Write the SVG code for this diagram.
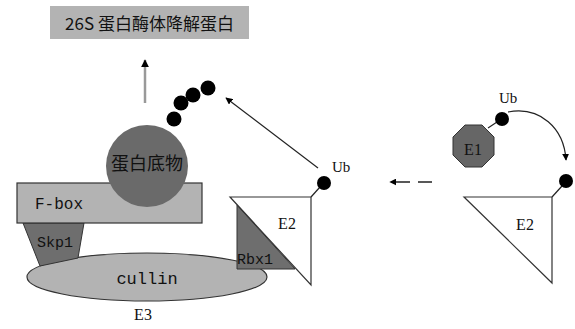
<svg xmlns="http://www.w3.org/2000/svg" width="575" height="329" viewBox="0 0 575 329">
<defs>
<style>
.serif{font-family:"Liberation Serif","Noto Sans CJK SC",serif;fill:#111}
.mono{font-family:"Liberation Mono","DejaVu Sans Mono",monospace;fill:#111}
.cjk{font-family:"Noto Sans CJK SC","Liberation Serif",serif;fill:#111}
.dot{fill:#000}
.ln{stroke:#222;stroke-width:1.2;fill:none}
</style>
<marker id="ah" viewBox="0 0 10 10" refX="9" refY="5" markerWidth="7" markerHeight="7" orient="auto" markerUnits="userSpaceOnUse">
<path d="M0,0 L10,5 L0,10 z" fill="#000"/>
</marker>
<marker id="ahg" viewBox="0 0 10 10" refX="9" refY="5" markerWidth="8" markerHeight="8" orient="auto" markerUnits="userSpaceOnUse">
<path d="M0,0 L10,5 L0,10 z" fill="#000"/>
</marker>
</defs>
<rect width="575" height="329" fill="#fff"/>

<g id="title">
<rect x="50" y="6" width="199" height="33" fill="#b3b3b3"/>
<text x="149.5" y="30" text-anchor="middle" class="cjk" font-size="17">26S 蛋白酶体降解蛋白</text>
</g>

<g id="connectors">
<line x1="145" y1="103" x2="145" y2="60" stroke="#999" stroke-width="2.5" marker-end="url(#ahg)"/>
<line x1="318" y1="168" x2="226" y2="98" stroke="#222" stroke-width="1.2" marker-end="url(#ah)"/>
<line x1="432" y1="182" x2="390" y2="182" stroke="#222" stroke-width="1.5" stroke-dasharray="14,8" marker-end="url(#ah)"/>
<path d="M508,112 C540,106 564,128 566,160" class="ln" marker-end="url(#ah)"/>
<line x1="311" y1="197" x2="320" y2="187" class="ln"/>
<line x1="488" y1="128" x2="500" y2="120" class="ln"/>
<line x1="552" y1="197" x2="562" y2="186" class="ln"/>
</g>

<g id="cullin">
<ellipse cx="147" cy="277" rx="120" ry="24" fill="#b3b3b3" stroke="#333" stroke-width="1.2"/>
<text x="147" y="284" text-anchor="middle" class="mono" font-size="17">cullin</text>
</g>

<g id="skp1">
<polygon points="23,223 84,223 78,258 40,266" fill="#6e6e6e" stroke="#333" stroke-width="1"/>
<text x="37" y="247" class="mono" font-size="15">Skp1</text>
</g>

<g id="fbox">
<rect x="17" y="183" width="185" height="40" fill="#b3b3b3" stroke="#333" stroke-width="1.2"/>
<text x="35" y="209" class="mono" font-size="16">F-box</text>
</g>

<g id="substrate">
<circle cx="147" cy="166" r="41" fill="#6a6a6a"/>
<text x="147" y="170" text-anchor="middle" class="cjk" font-size="18">蛋白底物</text>
</g>

<g id="ubchain">
<circle class="dot" cx="208" cy="88" r="7.5"/>
<circle class="dot" cx="193" cy="95" r="7.5"/>
<circle class="dot" cx="181" cy="103" r="7.5"/>
<circle class="dot" cx="174" cy="119" r="7.5"/>
</g>

<g id="rbx1">
<polygon points="237,205 237,269 295,269" fill="#6e6e6e" stroke="#333" stroke-width="1"/>
<text x="237" y="264" class="mono" font-size="15">Rbx1</text>
</g>

<g id="e2-left">
<polygon points="230,197 311,197 311,285" fill="#fff" stroke="#333" stroke-width="1.2"/>
<text x="287" y="229" text-anchor="middle" class="serif" font-size="16">E2</text>
</g>

<g id="ub-left">
<circle class="dot" cx="324" cy="183" r="7"/>
<text x="332" y="172" class="serif" font-size="15">Ub</text>
</g>

<g id="e1">
<polygon points="465,125 482,125 494,137 494,155 482,167 465,167 453,155 453,137" fill="#666" stroke="#333" stroke-width="1"/>
<text x="473" y="155" text-anchor="middle" class="serif" font-size="16">E1</text>
</g>

<g id="ub-e1">
<circle class="dot" cx="502" cy="119" r="7"/>
<text x="499" y="103" class="serif" font-size="15">Ub</text>
</g>

<g id="e2-right">
<polygon points="464,197 552,197 552,283" fill="#fff" stroke="#333" stroke-width="1.2"/>
<text x="525" y="230" text-anchor="middle" class="serif" font-size="16">E2</text>
<circle class="dot" cx="566" cy="181" r="7"/>
</g>

<g id="e3-label">
<text x="143" y="320" text-anchor="middle" class="serif" font-size="16">E3</text>
</g>
</svg>
